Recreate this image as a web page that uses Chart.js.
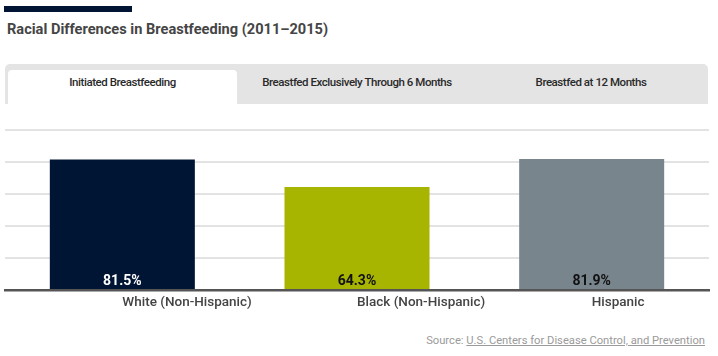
<!DOCTYPE html>
<html>
<head>
<meta charset="utf-8">
<script src="https://cdn.jsdelivr.net/npm/chart.js@4.4.1/dist/chart.umd.min.js"></script>
<style>
  html, body { margin:0; padding:0; background:#fff; width:718px; height:356px; overflow:hidden; font-family: Roboto, "Noto Sans", sans-serif; }
  #topbar { position:absolute; left:4px; top:6px; width:128px; height:6px; background:#001433; }
  #title { position:absolute; left:7px; top:20px; font-size:14.6px; font-weight:700; color:#454545; white-space:nowrap; }
  #tabs { position:absolute; left:5px; top:64px; width:703px; height:40px; background:#e4e4e4; border-radius:5px 5px 0 0; }
  .tab { position:absolute; top:6px; height:34px; line-height:25px; text-align:center; font-size:11.5px; font-weight:500; color:#2a2a2a; letter-spacing:-0.45px; white-space:nowrap; }
  .tab.active { background:#fff; border-radius:4px 4px 0 0; }
  #chartbox { position:absolute; left:0; top:120px; width:718px; height:200px; }
  #source { position:absolute; right:13px; top:334px; font-size:11.2px; color:#9a9a9a; white-space:nowrap; }
  #source span { text-decoration: underline; }
</style>
</head>
<body>
<div id="topbar"></div>
<div id="title">Racial Differences in Breastfeeding (2011–2015)</div>
<div id="tabs">
  <div class="tab active" style="left:3px; width:229px;">Initiated Breastfeeding</div>
  <div class="tab" style="left:235px; width:234px;">Breastfed Exclusively Through 6 Months</div>
  <div class="tab" style="left:469px; width:234px;">Breastfed at 12 Months</div>
</div>
<div id="chartbox"><canvas id="c"></canvas></div>
<div id="source">Source: <span>U.S. Centers for Disease Control, and Prevention</span></div>
<script>
const categories = ["White (Non-Hispanic)", "Black (Non-Hispanic)", "Hispanic"];
const values = [81.5, 64.3, 81.9];
const barColors = ["#001433", "#a7b400", "#79858d"];
const labelColors = ["#ffffff", "#111111", "#111111"];
const yTicks = [0, 20, 40, 60, 80, 100];

const valueLabels = {
  id: 'valueLabels',
  afterDatasetsDraw(chart) {
    const ctx = chart.ctx;
    const meta = chart.getDatasetMeta(0);
    ctx.save();
    ctx.font = '700 14px Roboto';
    ctx.textAlign = 'center';
    ctx.textBaseline = 'middle';
    meta.data.forEach((bar, i) => {
      ctx.fillStyle = labelColors[i];
      ctx.fillText(values[i].toFixed(1) + '%', bar.x, bar.base - 8);
    });
    ctx.restore();
  }
};

new Chart(document.getElementById('c'), {
  type: 'bar',
  data: {
    labels: categories,
    datasets: [{
      data: values,
      backgroundColor: barColors,
      borderWidth: 0,
      barPercentage: 0.618,
      categoryPercentage: 1.0
    }]
  },
  options: {
    responsive: true,
    maintainAspectRatio: false,
    animation: false,
    layout: { padding: { left: 5, right: 9, top: 10, bottom: 0 } },
    plugins: { legend: { display: false }, tooltip: { enabled: false } },
    scales: {
      x: {
        grid: { display: false, drawTicks: false },
        border: { display: true, color: '#555555', width: 2.5 },
        ticks: { align: 'start', padding: 5, color: '#444444', font: { family: 'Roboto', size: 13.5, weight: '500' } },
        afterFit(scale) { scale.height = 30; }
      },
      y: {
        min: 0, max: 100,
        afterBuildTicks(scale) { scale.ticks = yTicks.map(v => ({ value: v })); },
        grid: { color: '#e3e3e3', lineWidth: 2, drawTicks: false },
        border: { display: false },
        ticks: { display: false }
      }
    }
  },
  plugins: [valueLabels]
});
</script>
</body>
</html>
